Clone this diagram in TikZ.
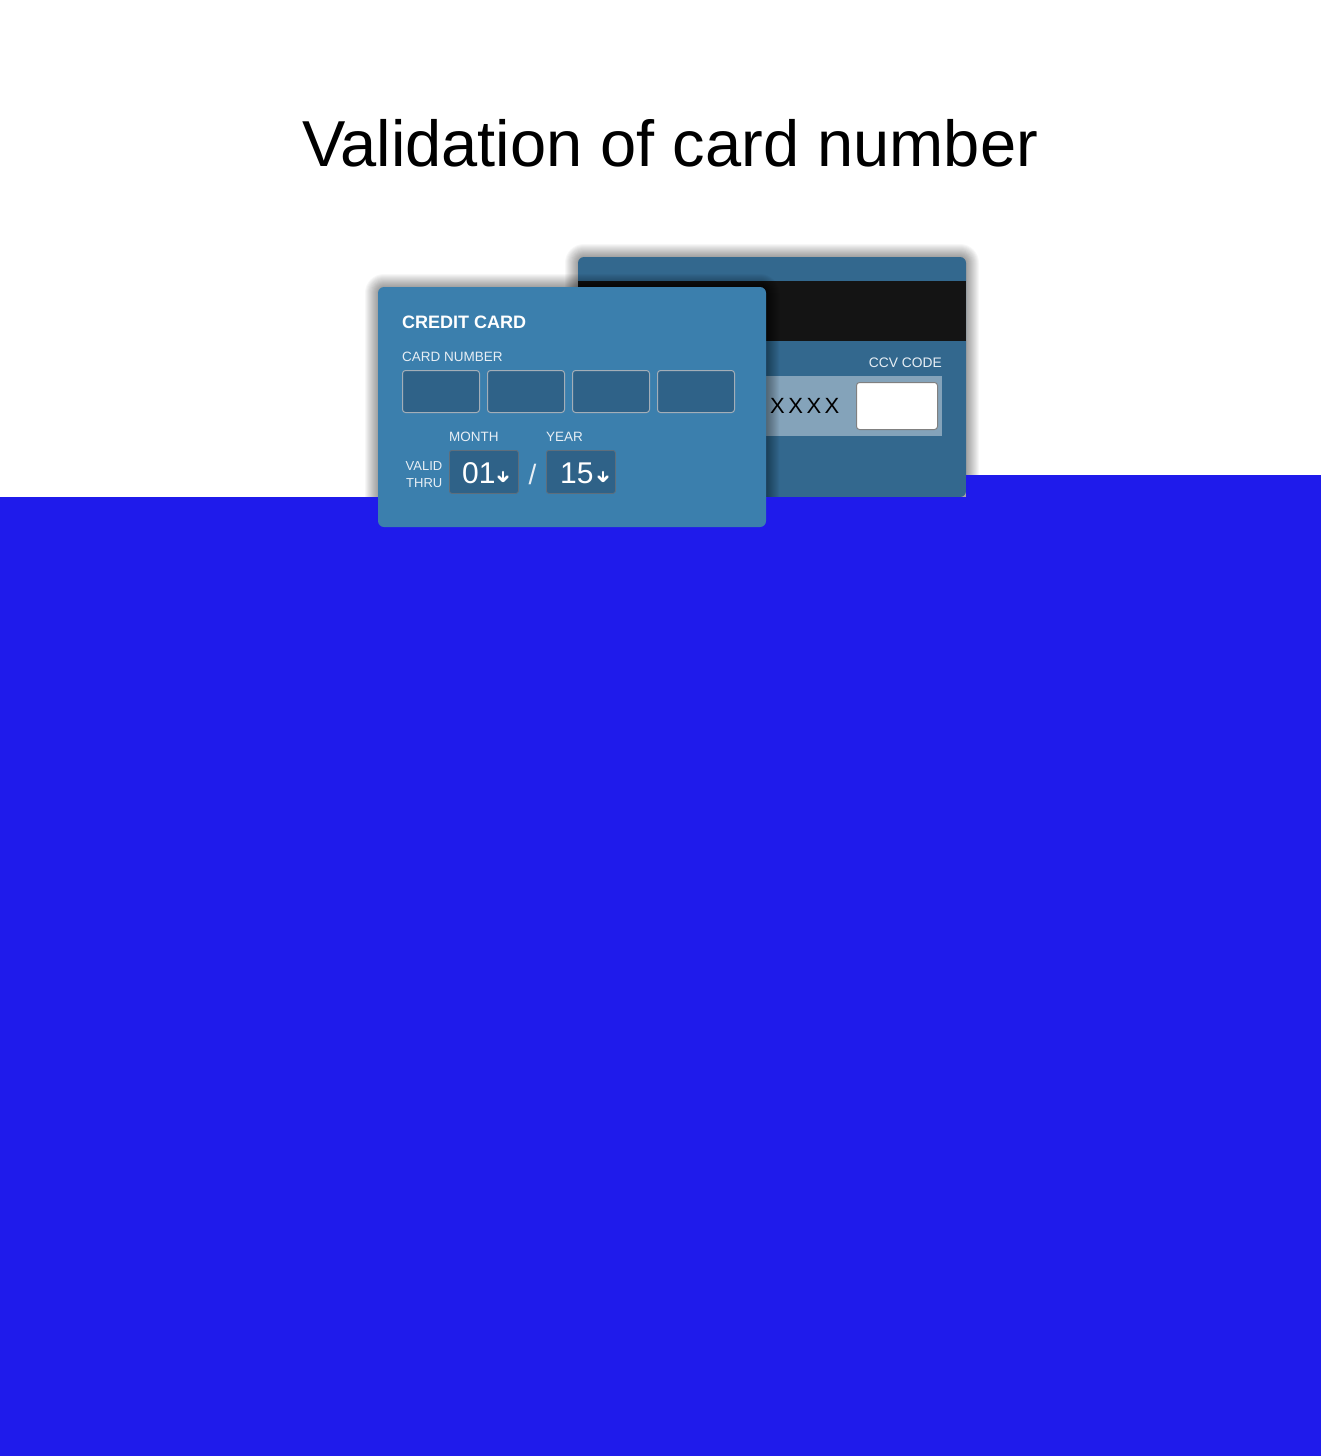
\documentclass[tikz,border=0pt]{standalone}
\usepackage{fontspec}
\setmainfont{Liberation Sans}
\definecolor{bluebg}{HTML}{1F1BEB}
\definecolor{frontc}{HTML}{3B7FAD}
\definecolor{backc}{HTML}{33688E}
\definecolor{fieldc}{HTML}{2F6288}
\definecolor{stripec}{HTML}{141414}
\definecolor{sigc}{HTML}{84A3BA}
\definecolor{lbl}{HTML}{E8EFF5}
\definecolor{fieldborder}{HTML}{A3AEB8}
\definecolor{selborder}{HTML}{5E6E7C}
\tikzset{
  cardbox/.style={rectangle, rounded corners=6pt, minimum width=388pt, minimum height=240pt, anchor=north west, inner sep=0pt, outer sep=0pt},
  numfield/.style={rectangle, rounded corners=3pt, fill=fieldc, draw=fieldborder, line width=1pt, minimum width=77pt, minimum height=42pt, anchor=north west, inner sep=0pt},
  selbox/.style={rectangle, rounded corners=2.5pt, fill=fieldc, draw=selborder, line width=0.8pt, minimum width=69pt, minimum height=43pt, anchor=north west, inner sep=0pt},
  lab/.style={text=lbl, font=\fontsize{13.5}{14}\selectfont, inner sep=0pt, anchor=base west},
  bigdigit/.style={text=white, font=\fontsize{30}{32}\selectfont, inner sep=0pt, anchor=base west},
  arrowstroke/.style={draw=white, line width=2.6pt, line cap=round, line join=round},
  shadowlayer/.style={fill=black, fill opacity=0.032},
}
\newcommand{\mycardshadow}[4]{%
  \foreach \r in {1,...,13}{%
    \fill[shadowlayer, rounded corners={6pt+\r pt}] ({#1-\r},{#2-\r}) rectangle ({#3+\r},{#4+\r});
  }%
}
\begin{document}
\begin{tikzpicture}[x=1pt,y=-1pt]
\useasboundingbox (0,0) rectangle (1320,1456);
\fill[white] (-5,-5) rectangle (1325,1461);
% title
\node[font=\fontsize{65}{70}\selectfont, inner sep=0pt, anchor=base] (title) at (670,166) {Validation of card number};
% back card
\mycardshadow{578}{257}{966}{497}
\node[cardbox, fill=backc] (back) at (578,257) {};
\node[rectangle, fill=stripec, minimum width=388pt, minimum height=60pt, anchor=north west, inner sep=0pt] (stripe) at (578,281) {};
\node[rectangle, fill=sigc, minimum width=242pt, minimum height=60pt, anchor=north west, inner sep=0pt] (sig) at (700,376) {};
\node[font=\fontsize{22}{24}\selectfont, inner sep=0pt, anchor=base west] (xxxx) at (770,413) {X\hspace{3.5pt}X\hspace{3.5pt}X\hspace{3.5pt}X};
\node[rectangle, rounded corners=3pt, fill=white, draw=gray, line width=1pt, minimum width=81pt, minimum height=47pt, anchor=north west, inner sep=0pt] (ccvbox) at (856,382) {};
\node[lab, anchor=base east, font=\fontsize{13.8}{14}\selectfont] (ccvlab) at (942,367) {CCV CODE};
% front card shadow
\mycardshadow{378}{287}{766}{527}
% blue area
\fill[bluebg] (-5,497) -- (966,497) -- (966,475) -- (1325,475) -- (1325,1461) -- (-5,1461) -- cycle;
% front card
\node[cardbox, fill=frontc] (front) at (378,287) {};
\node[text=white, font=\bfseries\fontsize{18}{20}\selectfont, inner sep=0pt, anchor=base west] (cctitle) at (402,328) {CREDIT CARD};
\node[lab] (cnlab) at (402,361) {CARD NUMBER};
\node[numfield] (f1) at (402,370) {};
\node[numfield] (f2) at (487,370) {};
\node[numfield] (f3) at (572,370) {};
\node[numfield] (f4) at (657,370) {};
\node[lab] (monthlab) at (449,441.5) {MONTH};
\node[lab] (yearlab) at (546,441.5) {YEAR};
\node[lab, anchor=base east, font=\fontsize{13}{14}\selectfont] (validlab) at (442.5,470.5) {VALID};
\node[lab, anchor=base east, font=\fontsize{13}{14}\selectfont] (thrulab) at (442.5,487) {THRU};
\node[selbox] (month) at (449,450) {};
\node[selbox] (year) at (546,450) {};
\node[bigdigit] (mval) at (462,483) {01};
\coordinate (marr) at (503,481);
\draw[arrowstroke] ([yshift=9pt]marr) -- (marr);
\draw[arrowstroke] ([xshift=-4.5pt,yshift=4.5pt]marr) -- (marr) -- ([xshift=4.5pt,yshift=4.5pt]marr);
\node[text=lbl, font=\fontsize{28}{30}\selectfont, inner sep=0pt, anchor=base] (slash) at (532.5,484) {/};
\node[bigdigit] (yval) at (560,483) {15};
\coordinate (yarr) at (603,481);
\draw[arrowstroke] ([yshift=9pt]yarr) -- (yarr);
\draw[arrowstroke] ([xshift=-4.5pt,yshift=4.5pt]yarr) -- (yarr) -- ([xshift=4.5pt,yshift=4.5pt]yarr);
\end{tikzpicture}
\end{document}
